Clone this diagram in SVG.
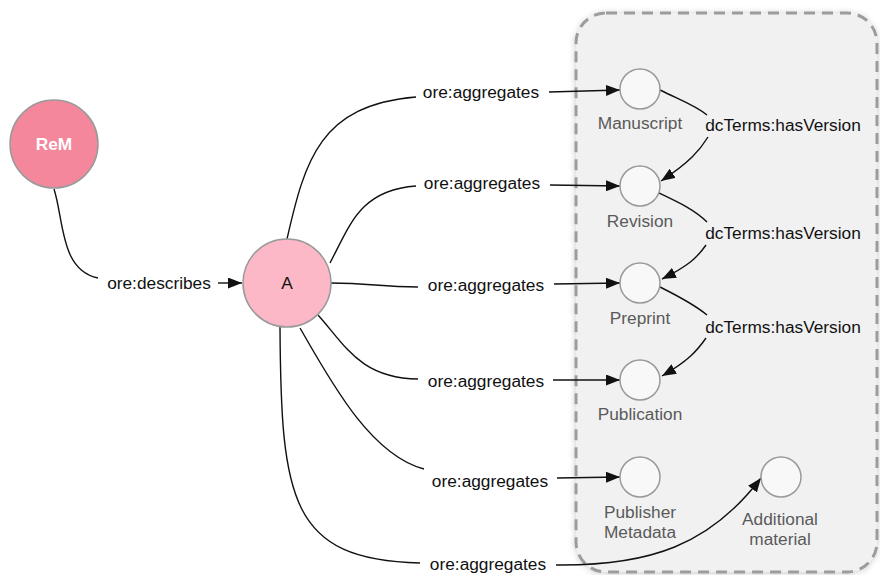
<svg xmlns="http://www.w3.org/2000/svg" width="880" height="575" viewBox="0 0 880 575">
<style>
.t{font-family:"Liberation Sans",Arial,Helvetica,sans-serif;font-size:17.3px;text-anchor:middle}
.el{fill:#111}
.nl{fill:#5a5a5a}
.e{fill:none;stroke:#111;stroke-width:1.4}
.sm{fill:#f8f8f8;stroke:#9a9a9a;stroke-width:1.5}
.big{stroke:#9a9a9a;stroke-width:1.5}
</style>
<defs>
<marker id="arr" markerUnits="userSpaceOnUse" markerWidth="15" markerHeight="11" refX="14" refY="5.5" orient="auto">
<path d="M0,0 L14,5.5 L0,11 z" fill="#111"/>
</marker>
<filter id="sh" x="-10%" y="-10%" width="120%" height="120%">
<feGaussianBlur in="SourceAlpha" stdDeviation="3"/>
<feOffset dx="0" dy="1" result="b"/>
<feFlood flood-color="#000" flood-opacity="0.2"/>
<feComposite in2="b" operator="in"/>
<feMerge><feMergeNode/><feMergeNode in="SourceGraphic"/></feMerge>
</filter>
</defs>
<rect width="880" height="575" fill="#fff"/>
<g id="container">
<rect x="576" y="13" width="301" height="559" rx="30" ry="30" fill="#f1f1f1" stroke="#9c9c9c" stroke-width="3" stroke-dasharray="11 7" filter="url(#sh)"/>
</g>
<g id="connectors">
<path class="e" d="M54 189 C64 220 60 270 98 278"/>
<path class="e" d="M218 283 L242 283" marker-end="url(#arr)"/>
<text class="t el" x="159" y="289">ore:describes</text>

<path class="e" d="M287 239 C305 160 320 105 416 97"/>
<path class="e" d="M549 92 L620 90" marker-end="url(#arr)"/>
<text class="t el" x="481" y="98">ore:aggregates</text>

<path class="e" d="M330 263 C350 225 360 190 416 186"/>
<path class="e" d="M550 185 L620 186" marker-end="url(#arr)"/>
<text class="t el" x="482" y="189">ore:aggregates</text>

<path class="e" d="M331 283 C370 283 380 287 418 287"/>
<path class="e" d="M554 284 L620 283" marker-end="url(#arr)"/>
<text class="t el" x="486" y="291">ore:aggregates</text>

<path class="e" d="M318 315 C345 345 360 378 418 379"/>
<path class="e" d="M553 380 L620 380" marker-end="url(#arr)"/>
<text class="t el" x="486" y="387">ore:aggregates</text>

<path class="e" d="M300 328 C330 380 370 455 424 469"/>
<path class="e" d="M557 478 L620 477" marker-end="url(#arr)"/>
<text class="t el" x="490" y="487">ore:aggregates</text>

<path class="e" d="M280 327 C281 500 290 560 420 563"/>
<path class="e" d="M556 565 C650 566 710 545 761 478" marker-end="url(#arr)"/>
<text class="t el" x="488" y="570">ore:aggregates</text>

<path class="e" d="M660 90 C680 100 695 105 707 115"/>
<path class="e" d="M708 137 C700 150 690 162 661 181" marker-end="url(#arr)"/>
<text class="t el" x="783" y="131">dcTerms:hasVersion</text>

<path class="e" d="M659 193 C680 203 695 210 707 222"/>
<path class="e" d="M706 245 C697 258 688 266 662 279" marker-end="url(#arr)"/>
<text class="t el" x="783" y="239">dcTerms:hasVersion</text>

<path class="e" d="M660 287 C680 297 695 305 707 315"/>
<path class="e" d="M706 338 C697 351 688 361 662 376" marker-end="url(#arr)"/>
<text class="t el" x="783" y="333">dcTerms:hasVersion</text>
</g>
<g id="node-rem">
<circle class="big" cx="54" cy="144" r="44" fill="#f4879c"/>
<text class="t" x="54" y="150" fill="#fff" font-weight="bold">ReM</text>
</g>
<g id="node-a">
<circle class="big" cx="287" cy="283" r="44" fill="#fdb8c7"/>
<text class="t" x="287" y="289" fill="#111">A</text>
</g>
<g id="node-manuscript">
<circle class="sm" cx="640" cy="89" r="20"/>
<text class="t nl" x="640" y="129">Manuscript</text>
</g>
<g id="node-revision">
<circle class="sm" cx="640" cy="186" r="20"/>
<text class="t nl" x="640" y="227">Revision</text>
</g>
<g id="node-preprint">
<circle class="sm" cx="640" cy="283" r="20"/>
<text class="t nl" x="640" y="324">Preprint</text>
</g>
<g id="node-publication">
<circle class="sm" cx="640" cy="380" r="20"/>
<text class="t nl" x="640" y="420">Publication</text>
</g>
<g id="node-publisher-metadata">
<circle class="sm" cx="640" cy="477" r="20"/>
<text class="t nl" x="640" y="518">Publisher</text>
<text class="t nl" x="640" y="538">Metadata</text>
</g>
<g id="node-additional-material">
<circle class="sm" cx="781" cy="477" r="20"/>
<text class="t nl" x="780" y="525">Additional</text>
<text class="t nl" x="780" y="545">material</text>
</g>
</svg>
